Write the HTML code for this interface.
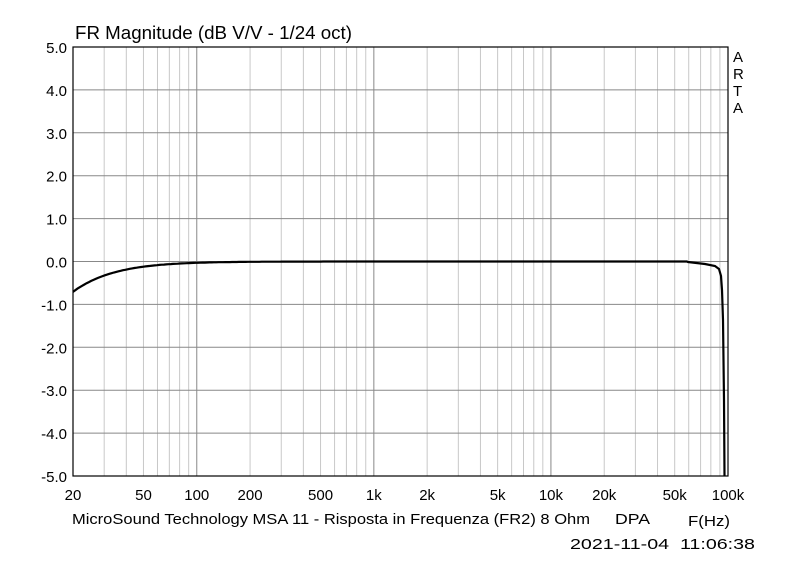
<!DOCTYPE html><html><head><style>body{margin:0;background:#fff}svg{display:block}text{font-family:"Liberation Sans",Arial,sans-serif;fill:#000}</style></head><body>
<svg id="s" width="800" height="575" xmlns="http://www.w3.org/2000/svg">
<text x="75" y="39" font-size="18" textLength="277" lengthAdjust="spacingAndGlyphs">FR Magnitude (dB V/V - 1/24 oct)</text>
<text x="72" y="524" font-size="15" textLength="518" lengthAdjust="spacingAndGlyphs">MicroSound Technology MSA 11 - Risposta in Frequenza (FR2) 8 Ohm</text>
<text x="615" y="524" font-size="15" textLength="35" lengthAdjust="spacingAndGlyphs">DPA</text>
<text x="688" y="526" font-size="15" textLength="42" lengthAdjust="spacingAndGlyphs">F(Hz)</text>
<text x="570" y="549" font-size="15" textLength="185" lengthAdjust="spacingAndGlyphs" xml:space="preserve">2021-11-04  11:06:38</text>
<text x="733" y="62" font-size="15">A</text><text x="733" y="79" font-size="15">R</text><text x="733" y="96" font-size="15">T</text><text x="733" y="113" font-size="15">A</text>
</svg>
<script>
const s=document.getElementById('s'),NS='http://www.w3.org/2000/svg';
const L=73,R=728,T=47,B=476,dec=(R-L)/Math.log10(5000);
const X=f=>L+dec*Math.log10(f/20),Y=d=>T+(5-d)*(B-T)/10;
function el(t,a,txt){const e=document.createElementNS(NS,t);for(const k in a)e.setAttribute(k,a[k]);if(txt)e.textContent=txt;s.appendChild(e);return e}
for(let d=10;d<=100000;d*=10)for(let m=1;m<10;m++){const f=d*m;if(f<20||f>100000)continue;const x=X(f);
 el('line',{x1:x,x2:x,y1:T,y2:B,stroke:m==1?'#888':'#c8c8c8','stroke-width':1});}
for(let d=-5;d<=5;d++){const y=Y(d);el('line',{x1:L,x2:R,y1:y,y2:y,stroke:'#888','stroke-width':1});
 el('text',{x:L-6,y:y+6,'font-size':15,'text-anchor':'end'},d.toFixed(1));}
el('rect',{x:L,y:T,width:R-L,height:B-T,fill:'none',stroke:'#000','stroke-width':1.2});
[[20,'20'],[50,'50'],[100,'100'],[200,'200'],[500,'500'],[1000,'1k'],[2000,'2k'],[5000,'5k'],[10000,'10k'],[20000,'20k'],[50000,'50k'],[100000,'100k']].forEach(([f,t])=>el('text',{x:X(f),y:500,'font-size':15,'text-anchor':'middle'},t));
let p=[];for(let f=20;f<=60000;f*=1.03){const d=-10*Math.log10(1+(8.4/f)**2);p.push(X(f).toFixed(1)+','+Y(d).toFixed(1));}
p.push('688,262','705,264','715,266','719,269','721,276','722,290','723,320','724,400','724.5,476');
el('polyline',{points:p.join(' '),fill:'none',stroke:'#000','stroke-width':2.2});
</script></body></html>
